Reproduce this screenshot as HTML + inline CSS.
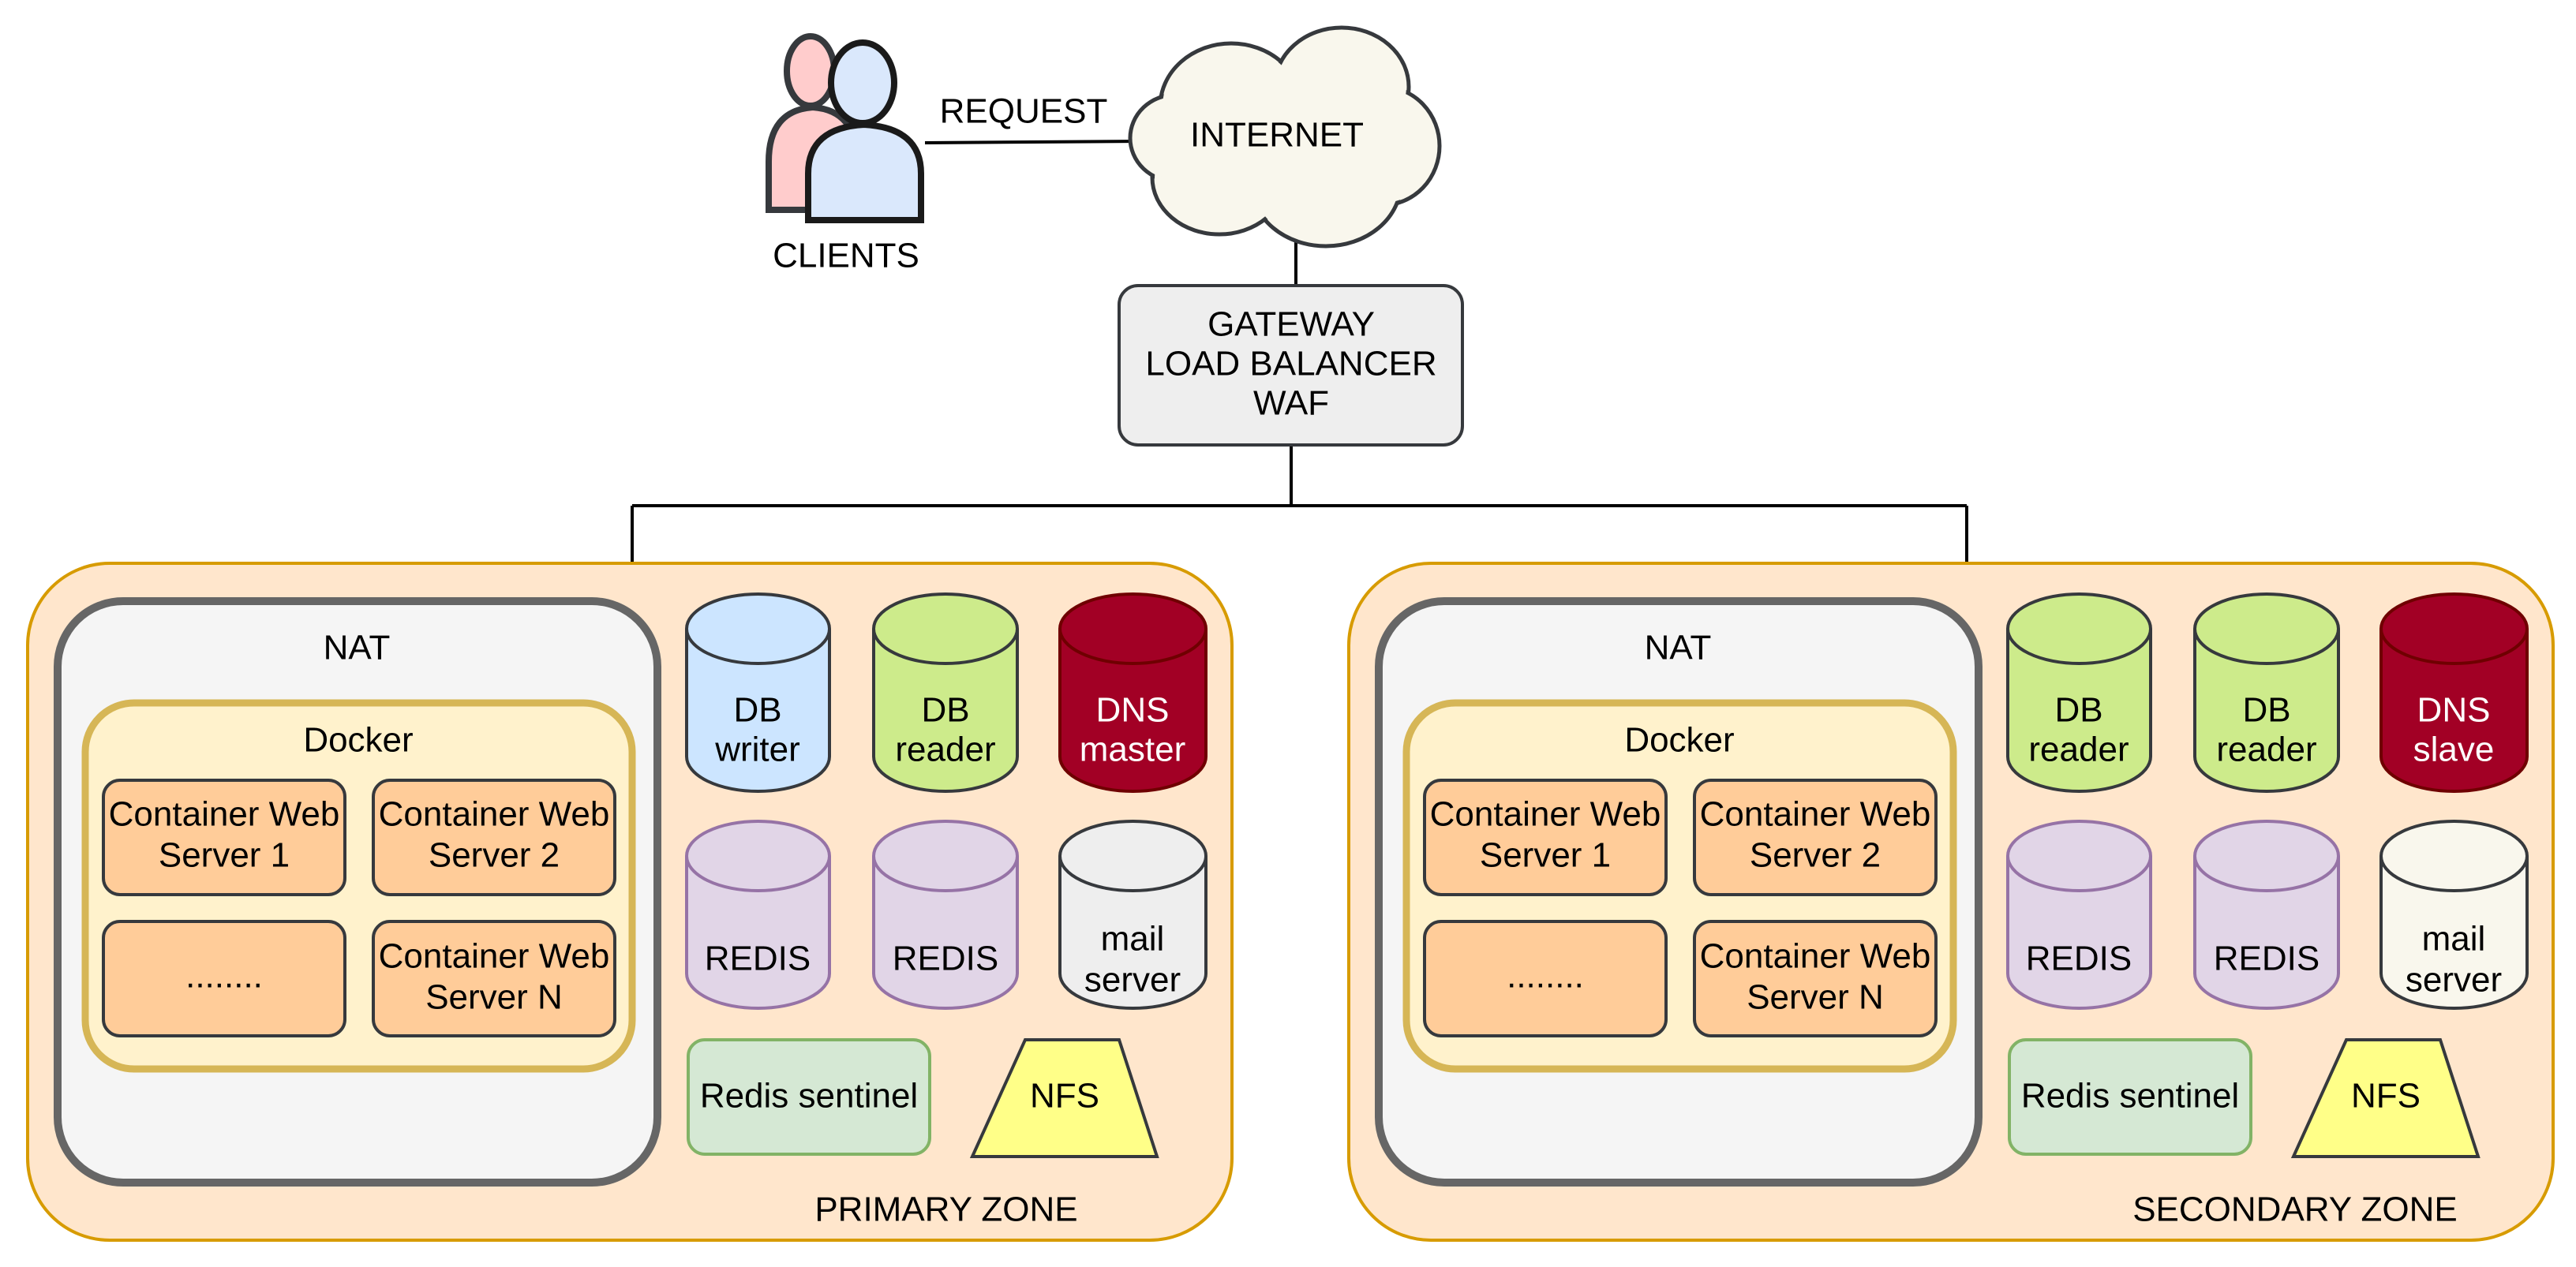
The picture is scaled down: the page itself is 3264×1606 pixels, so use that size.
<!DOCTYPE html>
<html><head><meta charset="utf-8"><style>
html,body{margin:0;padding:0;background:#fff;width:3264px;height:1606px;overflow:hidden}
text{font-family:"Liberation Sans",sans-serif;font-size:44px;text-anchor:middle;dominant-baseline:middle}
</style></head><body>
<svg width="3264" height="1606" viewBox="0 0 3264 1606" xmlns="http://www.w3.org/2000/svg">
<defs>
<g id="zone">
  <rect x="35" y="714" width="1526" height="858" rx="104" fill="#ffe6cc" stroke="#d79b00" stroke-width="4"/>
  <rect x="73" y="762" width="760" height="737" rx="83" fill="#f5f5f5" stroke="#666" stroke-width="10"/>
  <text x="452" y="824">NAT</text>
  <rect x="108" y="891" width="693" height="464" rx="62" fill="#fff2cc" stroke="#d6b656" stroke-width="9"/>
  <text x="454" y="941">Docker</text>
  <g fill="#ffcc99" stroke="#36393d" stroke-width="4">
    <rect x="131" y="989" width="306" height="145" rx="21"/>
    <rect x="473" y="989" width="306" height="145" rx="21"/>
    <rect x="131" y="1168" width="306" height="145" rx="21"/>
    <rect x="473" y="1168" width="306" height="145" rx="21"/>
  </g>
  <g style="font-size:45px">
  <text x="284" y="1035">Container Web</text><text x="284" y="1087">Server 1</text>
  <text x="626" y="1035">Container Web</text><text x="626" y="1087">Server 2</text>
  <text x="284" y="1240">........</text>
  <text x="626" y="1215">Container Web</text><text x="626" y="1267">Server N</text>
  </g>
  <rect x="872" y="1318" width="306" height="145" rx="21" fill="#d5e8d4" stroke="#82b366" stroke-width="4"/>
  <text x="1025" y="1392">Redis sentinel</text>
  <polygon points="1299,1318 1418,1318 1466,1466 1232,1466" fill="#ffff88" stroke="#36393d" stroke-width="4"/>
  <text x="1349" y="1392">NFS</text>
</g>
</defs>

<g stroke="#000" stroke-width="4" fill="none">
  <line x1="1172" y1="181" x2="1449" y2="179"/>
  <line x1="1642" y1="300" x2="1642" y2="364"/>
  <line x1="1636" y1="564" x2="1636" y2="641"/>
  <line x1="801" y1="641" x2="2492" y2="641"/>
  <line x1="801" y1="641" x2="801" y2="714"/>
  <line x1="2492" y1="641" x2="2492" y2="714"/>
</g>

<!-- cloud -->
<g stroke="#36393d" stroke-width="5" fill="#f9f7ed">
  <ellipse cx="1560" cy="135" rx="90" ry="80"/><ellipse cx="1700" cy="110" rx="85" ry="75"/><ellipse cx="1752" cy="185" rx="72" ry="75"/>
  <ellipse cx="1680" cy="232" rx="95" ry="80"/><ellipse cx="1545" cy="225" rx="85" ry="72"/><ellipse cx="1490" cy="175" rx="58" ry="55"/>
</g>
<g fill="#f9f7ed">
  <ellipse cx="1560" cy="135" rx="87" ry="77"/><ellipse cx="1700" cy="110" rx="82" ry="72"/><ellipse cx="1752" cy="185" rx="69" ry="72"/>
  <ellipse cx="1680" cy="232" rx="92" ry="77"/><ellipse cx="1545" cy="225" rx="82" ry="69"/><ellipse cx="1490" cy="175" rx="55" ry="52"/>
  <rect x="1500" y="120" width="260" height="140"/>
</g>
<text x="1618" y="174">INTERNET</text>
<text x="1297" y="144">REQUEST</text>

<!-- clients -->
<g stroke="#1a1a1a" stroke-width="8">
  <path d="M974,266 V205 Q974,140 1030,136 Q1086,140 1086,205 V266 Z" fill="#ffcccc" stroke="#36393d"/>
  <ellipse cx="1027" cy="90" rx="30" ry="44" fill="#ffcccc" stroke="#36393d"/>
  <path d="M1024,279 V220 Q1024,162 1095,158 Q1167,162 1167,220 V279 Z" fill="#dae8fc"/>
  <ellipse cx="1093" cy="105" rx="40" ry="51" fill="#dae8fc"/>
</g>
<text x="1072" y="327">CLIENTS</text>

<!-- gateway -->
<rect x="1418" y="362" width="435" height="202" rx="24" fill="#eeeeee" stroke="#36393d" stroke-width="4"/>
<text x="1636" y="414">GATEWAY</text>
<text x="1636" y="464">LOAD BALANCER</text>
<text x="1636" y="514">WAF</text>

<use href="#zone"/>
<use href="#zone" transform="translate(1674,0)"/>
<text x="1199" y="1536">PRIMARY ZONE</text>
<text x="2908" y="1536">SECONDARY ZONE</text>

<!-- cylinders -->
<g stroke-width="4">
  <path d="M870,797 a90.5,44 0 0 1 181,0 v162 a90.5,44 0 0 1 -181,0 z" fill="#cce5ff" stroke="#36393d"/>
  <path d="M870,797 a90.5,44 0 0 0 181,0" fill="none" stroke="#36393d"/>
  <path d="M1107,797 a91,44 0 0 1 182,0 v162 a91,44 0 0 1 -182,0 z" fill="#cdeb8b" stroke="#36393d"/>
  <path d="M1107,797 a91,44 0 0 0 182,0" fill="none" stroke="#36393d"/>
  <path d="M1343,797 a92.5,44 0 0 1 185,0 v162 a92.5,44 0 0 1 -185,0 z" fill="#a20025" stroke="#6f0000"/>
  <path d="M1343,797 a92.5,44 0 0 0 185,0" fill="none" stroke="#6f0000"/>
  <path d="M870,1085 a90.5,44 0 0 1 181,0 v149 a90.5,44 0 0 1 -181,0 z" fill="#e1d5e7" stroke="#9673a6"/>
  <path d="M870,1085 a90.5,44 0 0 0 181,0" fill="none" stroke="#9673a6"/>
  <path d="M1107,1085 a91,44 0 0 1 182,0 v149 a91,44 0 0 1 -182,0 z" fill="#e1d5e7" stroke="#9673a6"/>
  <path d="M1107,1085 a91,44 0 0 0 182,0" fill="none" stroke="#9673a6"/>
  <path d="M1343,1085 a92.5,44 0 0 1 185,0 v149 a92.5,44 0 0 1 -185,0 z" fill="#eeeeee" stroke="#36393d"/>
  <path d="M1343,1085 a92.5,44 0 0 0 185,0" fill="none" stroke="#36393d"/>

  <path d="M2544,797 a90.5,44 0 0 1 181,0 v162 a90.5,44 0 0 1 -181,0 z" fill="#cdeb8b" stroke="#36393d"/>
  <path d="M2544,797 a90.5,44 0 0 0 181,0" fill="none" stroke="#36393d"/>
  <path d="M2781,797 a91,44 0 0 1 182,0 v162 a91,44 0 0 1 -182,0 z" fill="#cdeb8b" stroke="#36393d"/>
  <path d="M2781,797 a91,44 0 0 0 182,0" fill="none" stroke="#36393d"/>
  <path d="M3017,797 a92.5,44 0 0 1 185,0 v162 a92.5,44 0 0 1 -185,0 z" fill="#a20025" stroke="#6f0000"/>
  <path d="M3017,797 a92.5,44 0 0 0 185,0" fill="none" stroke="#6f0000"/>
  <path d="M2544,1085 a90.5,44 0 0 1 181,0 v149 a90.5,44 0 0 1 -181,0 z" fill="#e1d5e7" stroke="#9673a6"/>
  <path d="M2544,1085 a90.5,44 0 0 0 181,0" fill="none" stroke="#9673a6"/>
  <path d="M2781,1085 a91,44 0 0 1 182,0 v149 a91,44 0 0 1 -182,0 z" fill="#e1d5e7" stroke="#9673a6"/>
  <path d="M2781,1085 a91,44 0 0 0 182,0" fill="none" stroke="#9673a6"/>
  <path d="M3017,1085 a92.5,44 0 0 1 185,0 v149 a92.5,44 0 0 1 -185,0 z" fill="#f9f7ed" stroke="#36393d"/>
  <path d="M3017,1085 a92.5,44 0 0 0 185,0" fill="none" stroke="#36393d"/>
</g>
<text x="960" y="903">DB</text><text x="960" y="953">writer</text>
<text x="1198" y="903">DB</text><text x="1198" y="953">reader</text>
<text x="1435" y="903" fill="#fff">DNS</text><text x="1435" y="953" fill="#fff">master</text>
<text x="960" y="1218">REDIS</text>
<text x="1198" y="1218">REDIS</text>
<text x="1435" y="1193">mail</text><text x="1435" y="1245">server</text>
<text x="2634" y="903">DB</text><text x="2634" y="953">reader</text>
<text x="2872" y="903">DB</text><text x="2872" y="953">reader</text>
<text x="3109" y="903" fill="#fff">DNS</text><text x="3109" y="953" fill="#fff">slave</text>
<text x="2634" y="1218">REDIS</text>
<text x="2872" y="1218">REDIS</text>
<text x="3109" y="1193">mail</text><text x="3109" y="1245">server</text>
</svg>
</body></html>
